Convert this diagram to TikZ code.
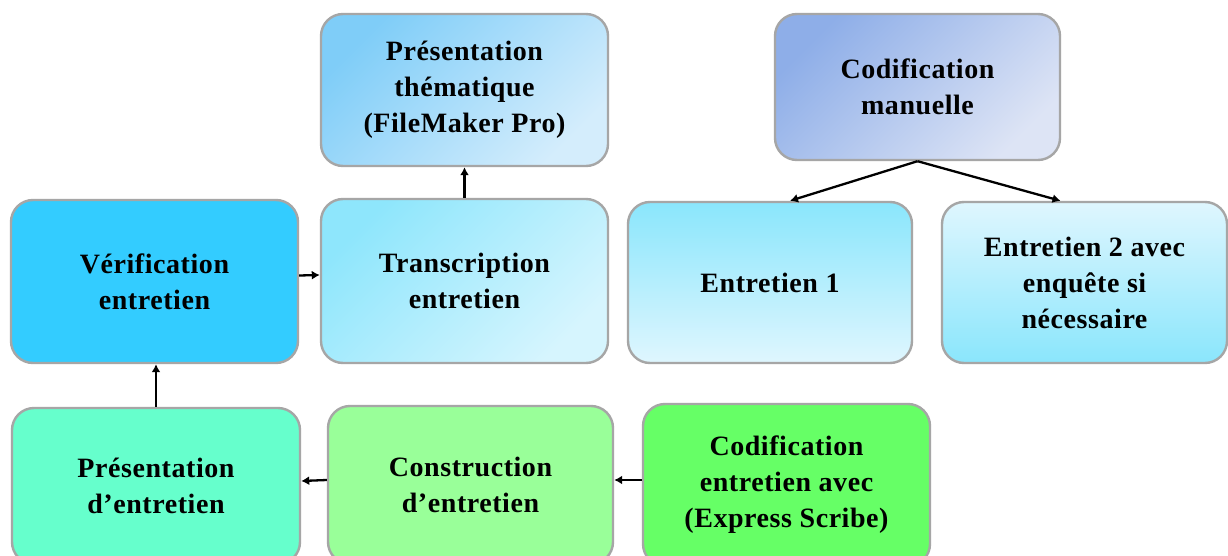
\documentclass[tikz,border=0pt]{standalone}
\usepackage{fontspec}
\setmainfont[LetterSpace=2]{Liberation Serif}
\usetikzlibrary{arrows.meta}
\definecolor{bordergray}{HTML}{A6A6A6}
\definecolor{themA}{HTML}{7FCDF8}
\definecolor{themB}{HTML}{D4EDFC}
\definecolor{transA}{HTML}{8EE6FC}
\definecolor{transB}{HTML}{D6F5FE}
\definecolor{verC}{HTML}{33CCFF}
\definecolor{manA}{HTML}{8EAEE8}
\definecolor{manB}{HTML}{DDE4F5}
\definecolor{entA}{HTML}{8AE6FC}
\definecolor{entB}{HTML}{DFF6FE}
\definecolor{presC}{HTML}{66FFCC}
\definecolor{consC}{HTML}{99FF99}
\definecolor{codexC}{HTML}{66FF66}
\tikzset{
  box/.style={draw=bordergray, line width=2.4pt, rounded corners=22pt,
    align=center, inner sep=0pt, font=\bfseries\fontsize{28}{36}\selectfont},
  conn/.style={line width=2.3pt, -{Latex[length=8pt,width=9pt]}}
}
\begin{document}
\begin{tikzpicture}[x=1pt,y=-1pt]
\useasboundingbox (0,0) rectangle (1228,556);
\clip (0,0) rectangle (1228,556);
\fill[white] (0,0) rectangle (1228,556);
\node[box, minimum width=287pt, minimum height=152pt, top color=themA, bottom color=themB, shading angle=45] (them) at (464.5,90) {Présentation\\thématique\\(FileMaker Pro)};
\node[box, minimum width=287pt, minimum height=164pt, top color=transA, bottom color=transB, shading angle=45] (trans) at (464.5,281) {Transcription\\entretien};
\node[box, minimum width=287pt, minimum height=163pt, fill=verC] (ver) at (154.5,281.5) {Vérification\\entretien};
\node[box, minimum width=285pt, minimum height=146pt, top color=manA, bottom color=manB, shading angle=45] (codman) at (917.5,87) {Codification\\manuelle};
\node[box, minimum width=284pt, minimum height=161pt, top color=entA, bottom color=entB] (ent1) at (770,282.5) {Entretien 1};
\node[box, minimum width=285pt, minimum height=161pt, top color=entB, bottom color=entA] (ent2) at (1084.5,282.5) {Entretien 2 avec\\enquête si\\nécessaire};
\node[box, minimum width=288pt, minimum height=156pt, fill=presC] (pres) at (156,486) {Présentation\\d’entretien};
\node[box, minimum width=285pt, minimum height=158pt, fill=consC] (cons) at (470.5,485) {Construction\\d’entretien};
\node[box, minimum width=287pt, minimum height=162pt, fill=codexC] (codex) at (786.5,485) {Codification\\entretien avec\\(Express Scribe)};
\draw[conn] ([yshift=6pt]ver.east) -- ([yshift=6pt]trans.west);
\draw[conn] (trans.north) -- (them.south);
\draw[conn] (pres.north) -- (ver.south -| pres.north);
\draw[conn] ([yshift=5pt]cons.west) -- ([yshift=5pt]pres.east);
\draw[conn] ([yshift=5pt]codex.west) -- ([yshift=5pt]cons.east);
\draw[conn] (codman.south) -- ([xshift=20pt]ent1.north);
\draw[conn] (codman.south) -- ([xshift=-24pt]ent2.north);
\end{tikzpicture}
\end{document}
